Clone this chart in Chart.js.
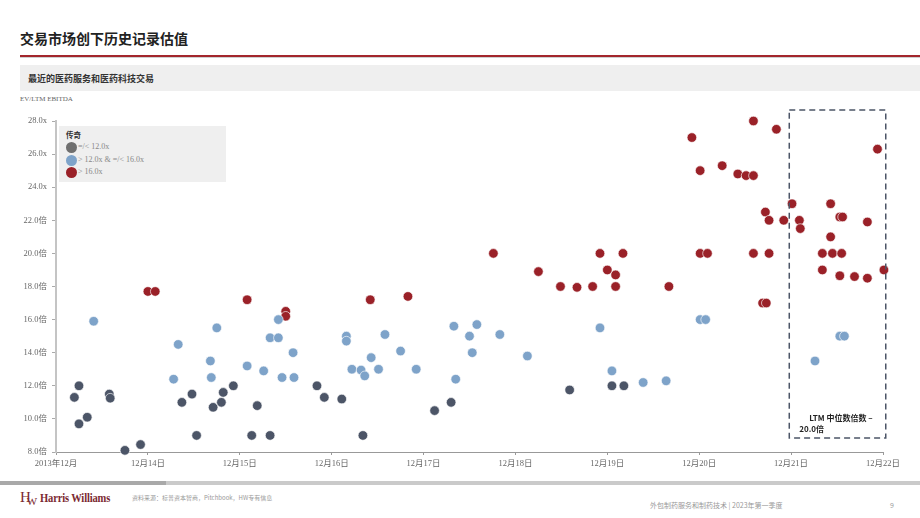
<!DOCTYPE html>
<html>
<head>
<meta charset="utf-8">
<script src="https://cdn.jsdelivr.net/npm/chart.js@4"></script>
<style>
  body { margin: 0; width: 920px; height: 518px; background: #fff; position: relative; overflow: hidden; font-family: "Noto Sans CJK SC", "Noto Sans", sans-serif; }
  .abs { position: absolute; white-space: nowrap; }
  #title { left: 20px; top: 28px; font-size: 14px; font-weight: bold; color: #222; line-height: 20px; }
  #redLine { left: 20px; top: 55px; width: 900px; height: 2px; background: #a3262c; }
  #greyLine { left: 20px; top: 57px; width: 900px; height: 1px; background: #d0d0d0; }
  #band { left: 20px; top: 65px; width: 900px; height: 26px; background: #efefef; }
  #subtitle { left: 28px; top: 72px; font-size: 9px; font-weight: bold; color: #333; line-height: 14px; }
  #yLabel { left: 20px; top: 95px; font-family: "Liberation Serif", serif; font-size: 7px; color: #666; }
  #chartBox { left: 0; top: 100px; width: 920px; height: 374px; }
  #legend { left: 59px; top: 126px; width: 167px; height: 56px; background: #efefef; }
  .lgTitle { position: absolute; left: 7px; top: 3px; font-size: 7.5px; font-weight: bold; color: #333; }
  .lgRow { position: absolute; left: 7px; height: 12px; font-family: "Liberation Serif", "Noto Sans CJK SC", serif; font-size: 8px; color: #888; line-height: 12px; }
  .lgDot { display: inline-block; width: 11px; height: 11px; border-radius: 50%; vertical-align: middle; margin-right: 1px; }
  #barDark { left: 0; top: 481px; width: 166px; height: 4px; background: #a9a9a9; }
  #barLight { left: 166px; top: 481px; width: 754px; height: 4px; background: #cacaca; }
  #logo { left: 20px; top: 488px; font-family: "Liberation Serif", serif; color: #7b2a31; }
  #logoName { position: absolute; left: 20px; top: 2px; font-size: 13.5px; font-weight: bold; transform: scaleX(0.78); transform-origin: left center; letter-spacing: -0.2px; }
  #source { left: 132px; top: 493px; font-size: 6px; color: #999; }
  #foot { left: 650px; top: 500px; font-size: 7px; color: #999; }
  #page { left: 890px; top: 500px; font-size: 7px; color: #999; }
</style>
</head>
<body>
<div class="abs" id="title">交易市场创下历史记录估值</div>
<div class="abs" id="redLine"></div>
<div class="abs" id="greyLine"></div>
<div class="abs" id="band"></div>
<div class="abs" id="subtitle">最近的医药服务和医药科技交易</div>
<div class="abs" id="yLabel">EV/LTM EBITDA</div>
<div class="abs" id="chartBox"><canvas id="chart"></canvas></div>
<div class="abs" id="legend">
  <div class="lgTitle">传奇</div>
  <div class="lgRow" style="top:15px"><span class="lgDot" style="background:#6f6f6f"></span>=/&lt; 12.0x</div>
  <div class="lgRow" style="top:28px"><span class="lgDot" style="background:#7ea3c9"></span>&gt; 12.0x &amp; =/&lt; 16.0x</div>
  <div class="lgRow" style="top:40px"><span class="lgDot" style="background:#9a2128"></span>&gt; 16.0x</div>
</div>
<div class="abs" id="barDark"></div>
<div class="abs" id="barLight"></div>
<div class="abs" id="logo"><span style="font-size:15px;">H</span><span style="font-size:11px;margin-left:-4px;position:relative;top:3px;">W</span><span id="logoName">Harris Williams</span></div>
<div class="abs" id="source">资料来源：标普资本智商，Pitchbook，HW专有信息</div>
<div class="abs" id="foot">外包制药服务和制药技术 | 2023年第一季度</div>
<div class="abs" id="page">9</div>

<script>
// tick labels
const xTickLabels = ["2013年12月", "12月14日", "12月15日", "12月16日", "12月17日", "12月18日", "12月19日", "12月20日", "12月21日", "12月22日"];
const yTickLabels = ["8.0倍", "10.0倍", "12.0倍", "14.0倍", "16.0倍", "18.0倍", "20.0倍", "22.0倍", "24.0x", "26.0x", "28.0x"];

// deals [x (year position), EV/EBITDA]
const lowDeals = [
  [13.20, 11.3], [13.25, 12.0], [13.25, 9.7], [13.34, 10.1], [13.58, 11.5], [13.59, 11.25],
  [13.75, 8.1], [13.92, 8.45], [14.37, 11.0], [14.48, 11.5], [14.53, 9.0], [14.71, 10.7],
  [14.80, 11.0], [14.82, 11.6], [14.93, 12.0], [15.13, 9.0], [15.19, 10.8], [15.33, 9.0],
  [15.84, 12.0], [15.92, 11.3], [16.11, 11.2], [16.34, 9.0], [17.12, 10.5], [17.30, 11.0],
  [18.59, 11.75], [19.05, 12.0], [19.18, 12.0]
];
const midDeals = [
  [13.41, 15.9], [14.28, 12.4], [14.33, 14.5], [14.68, 13.5], [14.69, 12.5], [14.75, 15.5],
  [15.08, 13.2], [15.26, 12.9], [15.33, 14.9], [15.42, 14.9], [15.42, 16.0], [15.46, 12.5],
  [15.58, 14.0], [15.59, 12.5], [16.16, 15.0], [16.16, 14.7], [16.22, 13.0], [16.32, 12.95],
  [16.36, 12.6], [16.43, 13.7], [16.51, 13.0], [16.58, 15.1], [16.75, 14.1], [16.92, 13.0],
  [17.33, 15.6], [17.35, 12.4], [17.50, 15.0], [17.53, 14.0], [17.58, 15.7], [17.83, 15.1],
  [18.13, 13.8], [18.92, 15.5], [19.05, 12.9], [19.39, 12.2], [19.64, 12.3], [20.01, 16.0],
  [20.07, 16.0], [21.26, 13.5], [21.53, 15.0], [21.58, 15.0]
];
const highDeals = [
  [14.00, 17.7], [14.08, 17.7], [15.08, 17.2], [15.50, 16.5], [15.50, 16.2], [16.42, 17.2],
  [16.83, 17.4], [17.76, 20.0], [18.25, 18.9], [18.49, 18.0], [18.67, 17.95], [18.84, 18.0],
  [18.92, 20.0], [19.00, 19.0], [19.09, 18.7], [19.09, 18.0], [19.17, 20.0], [19.67, 18.0],
  [19.92, 27.0], [20.01, 25.0], [20.01, 20.0], [20.09, 20.0], [20.25, 25.3], [20.42, 24.8],
  [20.51, 24.7], [20.59, 24.7], [20.59, 28.0], [20.59, 20.0], [20.69, 17.0], [20.73, 17.0],
  [20.72, 22.5], [20.76, 22.0], [20.76, 20.0], [20.84, 27.5], [20.92, 22.0], [21.01, 23.0],
  [21.09, 22.0], [21.10, 21.5], [21.34, 20.0], [21.34, 19.0], [21.43, 23.0], [21.43, 21.0],
  [21.45, 20.0], [21.53, 22.2], [21.56, 22.2], [21.53, 18.65], [21.55, 20.0], [21.69, 18.6],
  [21.83, 21.9], [21.83, 18.5], [21.94, 26.3], [22.01, 19.0]
];

const ltmText = ["LTM 中位数倍数 –", "20.0倍"];

const toPts = arr => arr.map(p => ({ x: p[0], y: p[1] }));

const tickFont = { family: "'Liberation Serif', 'Noto Sans CJK SC', serif", size: 8.5 };

// dashed LTM box
const ltmBox = {
  id: "ltmBox",
  afterDatasetsDraw(chart) {
    const { ctx, scales: { x, y } } = chart;
    const left = x.getPixelForValue(20.98), right = x.getPixelForValue(22.03);
    const top = y.getPixelForValue(28.66), bottom = y.getPixelForValue(8.85);
    ctx.save();
    ctx.strokeStyle = "#4c5567";
    ctx.lineWidth = 1.5;
    ctx.setLineDash([6, 4]);
    ctx.strokeRect(left, top, right - left, bottom - top);
    ctx.setLineDash([]);
    ctx.fillStyle = "#222";
    ctx.font = "bold 8px 'Noto Sans CJK SC', sans-serif";
    ctx.textBaseline = "middle";
    ctx.fillText(ltmText[0], left + 20, bottom - 20);
    ctx.fillText(ltmText[1], left + 10, bottom - 9);
    ctx.restore();
  }
};

new Chart(document.getElementById("chart"), {
  type: "scatter",
  data: {
    datasets: [
      { data: toPts(lowDeals), backgroundColor: "#4c5567" },
      { data: toPts(midDeals), backgroundColor: "#7ea3c9" },
      { data: toPts(highDeals), backgroundColor: "#9a2128" }
    ]
  },
  options: {
    responsive: true,
    maintainAspectRatio: false,
    animation: false,
    layout: { padding: { top: 21, right: 37, left: 0, bottom: 0 } },
    elements: { point: { radius: 4.8, hoverRadius: 4.8, borderWidth: 0.8, borderColor: "rgba(255,255,255,0.8)" } },
    datasets: { scatter: { clip: false } },
    plugins: { legend: { display: false }, tooltip: { enabled: false } },
    scales: {
      x: {
        type: "linear", min: 13, max: 22,
        afterFit: s => { s.height = 22; },
        border: { color: "#999", width: 1 },
        grid: { drawOnChartArea: false, drawTicks: true, tickLength: 3, color: "#999" },
        ticks: { stepSize: 1, padding: 4, color: "#666", font: tickFont, maxRotation: 0,
          callback: v => xTickLabels[Math.round(v - 13)] }
      },
      y: {
        min: 8, max: 28,
        afterFit: s => { s.width = 56; },
        border: { color: "#c4c4c4", width: 2 },
        grid: { drawOnChartArea: false, drawTicks: true, tickLength: 4, color: "#aaa" },
        ticks: { stepSize: 2, padding: 5, color: "#666", font: tickFont,
          callback: v => yTickLabels[Math.round((v - 8) / 2)] }
      }
    }
  },
  plugins: [ltmBox]
});
</script>
</body>
</html>
